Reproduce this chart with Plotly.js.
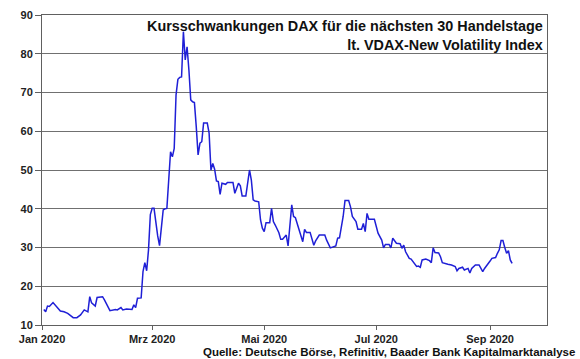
<!DOCTYPE html>
<html>
<head>
<meta charset="utf-8">
<script src="https://cdn.plot.ly/plotly-3.0.1.min.js"></script>
<style>
html,body{margin:0;padding:0;background:#fff;}
#chart{width:580px;height:359px;}
</style>
</head>
<body>
<div id="chart"></div>
<script>
const dates = [
"2020-01-02","2020-01-03","2020-01-04","2020-01-05","2020-01-07","2020-01-09","2020-01-11","2020-01-13","2020-01-15","2020-01-18",
"2020-01-20","2020-01-22","2020-01-24","2020-01-26","2020-01-27","2020-01-28","2020-01-30","2020-01-31","2020-02-03","2020-02-04",
"2020-02-06","2020-02-07","2020-02-10","2020-02-11","2020-02-13","2020-02-14","2020-02-16","2020-02-19","2020-02-20","2020-02-21",
"2020-02-22","2020-02-23","2020-02-24","2020-02-25","2020-02-26","2020-02-27","2020-02-28","2020-02-29","2020-03-01","2020-03-02",
"2020-03-03","2020-03-04","2020-03-05","2020-03-06","2020-03-07","2020-03-08","2020-03-09","2020-03-11","2020-03-12","2020-03-13",
"2020-03-14","2020-03-15","2020-03-16","2020-03-17","2020-03-18","2020-03-19","2020-03-20","2020-03-21","2020-03-22","2020-03-23",
"2020-03-24","2020-03-25","2020-03-26","2020-03-27","2020-03-28","2020-03-29","2020-03-31","2020-04-01","2020-04-02","2020-04-03",
"2020-04-04","2020-04-05","2020-04-06","2020-04-07","2020-04-08","2020-04-10","2020-04-11","2020-04-14","2020-04-15","2020-04-17",
"2020-04-18","2020-04-19","2020-04-21","2020-04-23","2020-04-24","2020-04-25","2020-04-26","2020-04-28","2020-04-29","2020-04-30",
"2020-05-01","2020-05-02","2020-05-04","2020-05-05","2020-05-06","2020-05-07","2020-05-09","2020-05-10","2020-05-11","2020-05-13",
"2020-05-14","2020-05-16","2020-05-17","2020-05-18","2020-05-20","2020-05-21","2020-05-22","2020-05-23","2020-05-24","2020-05-26",
"2020-05-27","2020-05-28","2020-05-29","2020-05-31","2020-06-03","2020-06-04","2020-06-06","2020-06-08","2020-06-09","2020-06-10",
"2020-06-11","2020-06-13","2020-06-14","2020-06-16","2020-06-17","2020-06-18","2020-06-20","2020-06-21","2020-06-23","2020-06-24",
"2020-06-25","2020-06-26","2020-06-27","2020-06-30","2020-07-01","2020-07-02","2020-07-04","2020-07-05","2020-07-06","2020-07-08",
"2020-07-09","2020-07-10","2020-07-12","2020-07-14","2020-07-15","2020-07-16","2020-07-17","2020-07-19","2020-07-20","2020-07-22",
"2020-07-23","2020-07-24","2020-07-25","2020-07-26","2020-07-28","2020-07-30","2020-07-31","2020-08-01","2020-08-02","2020-08-04",
"2020-08-05","2020-08-06","2020-08-08","2020-08-09","2020-08-11","2020-08-13","2020-08-14","2020-08-15","2020-08-17","2020-08-18",
"2020-08-20","2020-08-21","2020-08-22","2020-08-24","2020-08-26","2020-08-27","2020-08-28","2020-08-29","2020-08-31","2020-09-01",
"2020-09-02","2020-09-04","2020-09-05","2020-09-06","2020-09-07","2020-09-08","2020-09-09","2020-09-10","2020-09-11","2020-09-12",
"2020-09-13"
];
const vdax = [
14.0,13.4,14.9,14.8,15.8,14.7,13.6,13.4,13.0,11.9,
11.9,12.6,13.9,13.4,17.3,15.7,14.9,17.1,17.3,16.5,
14.7,13.7,14.0,13.9,14.5,13.9,14.1,14.0,15.2,14.5,
16.9,16.9,17.0,23.8,26.1,24.0,29.4,38.5,40.1,40.1,
36.0,33.0,30.5,36.0,39.7,40.0,40.1,54.7,53.4,55.6,
69.4,73.4,73.9,74.0,85.7,78.4,81.8,75.8,68.1,67.6,
67.4,61.2,53.9,56.9,57.3,62.1,62.1,59.5,50.0,51.7,
50.2,47.2,47.0,43.7,46.6,46.3,46.8,46.8,44.0,46.6,
45.9,43.3,43.3,50.0,47.4,42.3,42.0,41.8,37.1,35.0,
34.1,36.4,36.4,40.1,36.7,35.8,33.8,32.1,32.1,33.2,
30.4,41.0,38.0,37.7,34.5,32.8,31.5,34.7,33.9,33.9,
31.9,30.6,31.7,33.2,33.2,31.9,29.9,30.2,30.4,32.4,
32.5,38.0,42.1,42.1,40.5,38.0,36.7,34.7,34.7,36.2,
34.1,38.8,37.3,37.3,35.8,33.7,31.9,29.9,30.8,30.8,
29.9,32.4,31.1,31.0,29.8,30.6,28.9,27.2,27.0,25.5,
25.1,25.2,24.9,26.8,27.0,26.6,26.1,29.9,28.7,28.6,
27.6,26.1,25.7,25.7,25.5,25.1,24.0,24.6,24.9,24.2,
24.6,23.4,24.6,25.5,25.5,24.6,23.8,24.6,26.1,26.5,
27.2,27.4,28.5,29.4,31.8,31.8,30.0,28.5,29.2,26.8,
25.9
];
const xTickVals = ["2020-01-01","2020-03-01","2020-05-01","2020-07-01","2020-09-01"];
const xTickText = ["Jan 2020","Mrz 2020","Mai 2020","Jul 2020","Sep 2020"];
const yTickVals = [10,20,30,40,50,60,70,80,90];
const titleLines = ["Kursschwankungen DAX für die nächsten 30 Handelstage","lt. VDAX-New Volatility Index"];
const sourceText = "Quelle: Deutsche Börse, Refinitiv, Baader Bank Kapitalmarktanalyse";

const FONT = "Liberation Sans, Arial, sans-serif";

const trace = {
  x: dates, y: vdax, type: "scatter", mode: "lines",
  line: {color: "#1f1fd6", width: 1.5},
  hoverinfo: "skip"
};

const layout = {
  width: 580, height: 359,
  margin: {l: 42, r: 33, t: 15, b: 34},
  paper_bgcolor: "#fff", plot_bgcolor: "#fff",
  showlegend: false,
  xaxis: {
    type: "date",
    range: ["2020-01-01", "2020-10-02"],
    tickmode: "array", tickvals: xTickVals, ticktext: xTickText,
    ticks: "outside", ticklen: 4, tickcolor: "#606060", tickwidth: 1,
    showgrid: false, zeroline: false,
    showline: true, linecolor: "#606060", linewidth: 1, mirror: true,
    tickfont: {family: FONT, size: 11, color: "#222", weight: "bold"}
  },
  yaxis: {
    range: [10, 90],
    tickmode: "array", tickvals: yTickVals,
    ticks: "outside", ticklen: 6, tickcolor: "#606060", tickwidth: 1,
    showgrid: true, gridcolor: "#707070", gridwidth: 1,
    zeroline: false,
    showline: true, linecolor: "#606060", linewidth: 1, mirror: true,
    tickfont: {family: FONT, size: 11, color: "#222", weight: "bold"}
  },
  annotations: [
    {
      xref: "paper", yref: "paper", x: 0.997, y: 0.997,
      xanchor: "right", yanchor: "top", align: "right", showarrow: false,
      text: titleLines.join("<br>"),
      font: {family: FONT, size: 14.4, color: "#111", weight: "bold"}
    },
    {
      xref: "paper", yref: "paper", x: 1.06, y: -0.087,
      xanchor: "right", yanchor: "middle", align: "right", showarrow: false,
      text: sourceText,
      font: {family: FONT, size: 11.5, color: "#111", weight: "bold"}
    }
  ]
};

Plotly.newPlot("chart", [trace], layout, {staticPlot: true, displayModeBar: false});
</script>
</body>
</html>
